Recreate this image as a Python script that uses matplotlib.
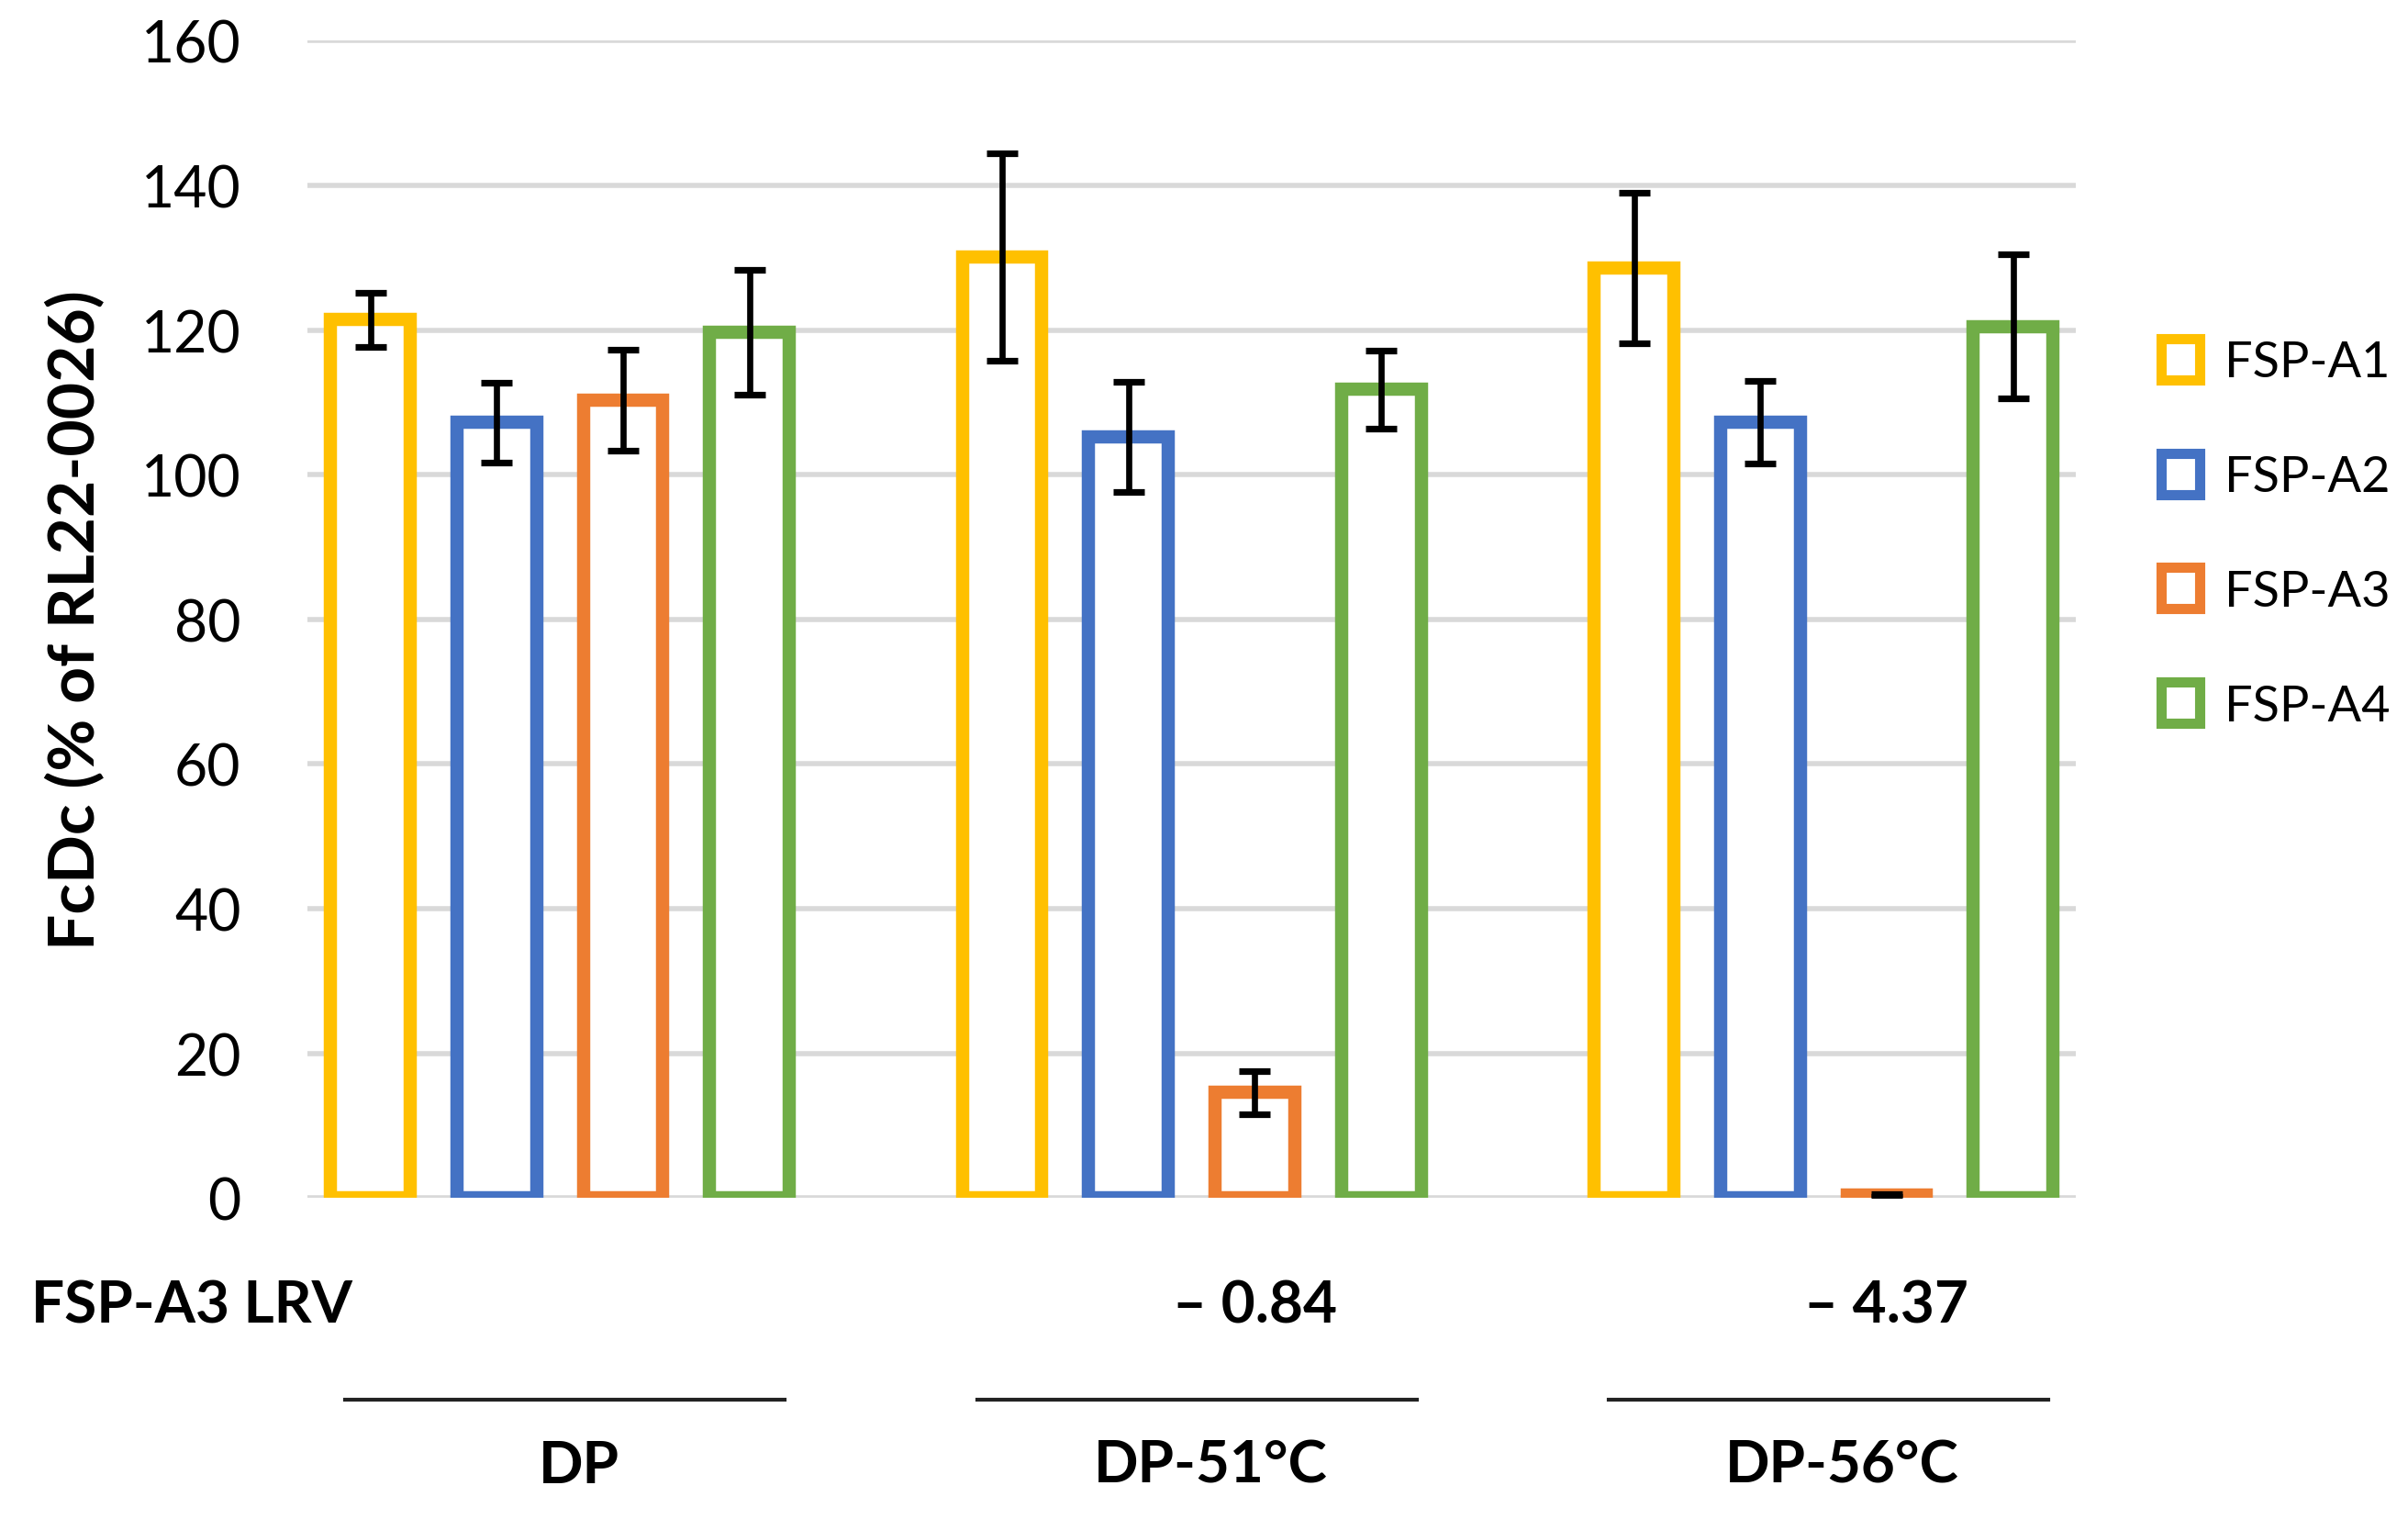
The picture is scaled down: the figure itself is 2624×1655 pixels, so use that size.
import matplotlib
matplotlib.use("Agg")
import matplotlib.pyplot as plt
import matplotlib.transforms as mtransforms
from matplotlib.patches import Patch
import numpy as np

plt.rcParams['font.family'] = ['Lato', 'DejaVu Sans']

groups = ['DP', 'DP-51°C', 'DP-56°C']
series = ['FSP-A1', 'FSP-A2', 'FSP-A3', 'FSP-A4']
a1 = [121.4, 130.1, 128.6]
a1_err = [3.8, 14.3, 10.4]
a2 = [107.2, 105.2, 107.2]
a2_err = [5.5, 7.6, 5.7]
a3 = [110.3, 14.6, 0.4]
a3_err = [7.0, 3.0, 0.2]
a4 = [119.7, 111.8, 120.5]
a4_err = [8.6, 5.4, 10.0]
lrv_labels = ['', '– 0.84', '– 4.37']
row_label = 'FSP-A3 LRV'
y_ticks = [0, 20, 40, 60, 80, 100, 120, 140, 160]
colors = ['#FFC000', '#4472C4', '#ED7D31', '#70AD47']

values = [a1, a2, a3, a4]
errors = [a1_err, a2_err, a3_err, a4_err]

fig = plt.figure(figsize=(13.12, 8.28), dpi=200)
ax = fig.add_axes([0.1276, 0.2111, 0.7346, 0.7616])

bar_w = 0.63
for i, (vals, errs, c, name) in enumerate(zip(values, errors, colors, series)):
    xs = np.arange(len(groups)) * 5 + i
    ax.bar(xs, vals, width=bar_w, facecolor='white', edgecolor=c,
           linewidth=5.2, joinstyle='miter', zorder=3, label=name)
    ax.errorbar(xs, vals, yerr=errs, fmt='none', ecolor='black',
                elinewidth=2.4, capsize=6, capthick=2.6, zorder=4)

ax.set_xlim(-0.5, 13.5)
ax.set_ylim(0, 160)
ax.set_yticks(y_ticks)
ax.set_yticklabels([str(t) for t in y_ticks], fontsize=22.5)
ax.set_xticks([])
ax.tick_params(axis='y', length=0, pad=26)
for s in ax.spines.values():
    s.set_visible(False)
ax.yaxis.grid(True, color='#D9D9D9', linewidth=2.0, zorder=0)
ax.set_axisbelow(True)

ax.set_ylabel('FcDc (% of RL22-0026)', fontsize=25, fontweight='bold', labelpad=14)

trans = mtransforms.blended_transform_factory(ax.transData, fig.transFigure)
fig.text(0.0128, 0.1404, row_label, fontsize=23, fontweight='bold',
         ha='left', va='center')
for g, lab in enumerate(lrv_labels):
    if lab:
        ax.text(g * 5 + 2.0, 0.1404, lab, transform=trans, fontsize=23,
                fontweight='bold', ha='center', va='center')
for g, lab in enumerate(groups):
    c = g * 5 + 1.5
    ax.plot([c - 1.7, c + 1.78], [0.0788, 0.0788], transform=trans,
            color='#222222', linewidth=1.5, clip_on=False)
    ax.text(c + 0.15, 0.0354, lab, transform=trans, fontsize=23,
            fontweight='bold', ha='center', va='center')

handles = [Patch(facecolor='white', edgecolor=c, linewidth=4.0, label=n)
           for c, n in zip(colors, series)]
fig.legend(handles=handles, loc='center left', bbox_to_anchor=(0.8975, 0.6485),
           frameon=False, fontsize=19.5, handlelength=0.78, handleheight=0.9,
           handletextpad=0.5, labelspacing=1.38, borderpad=0, borderaxespad=0)

fig.savefig('out.png', dpi=200)
